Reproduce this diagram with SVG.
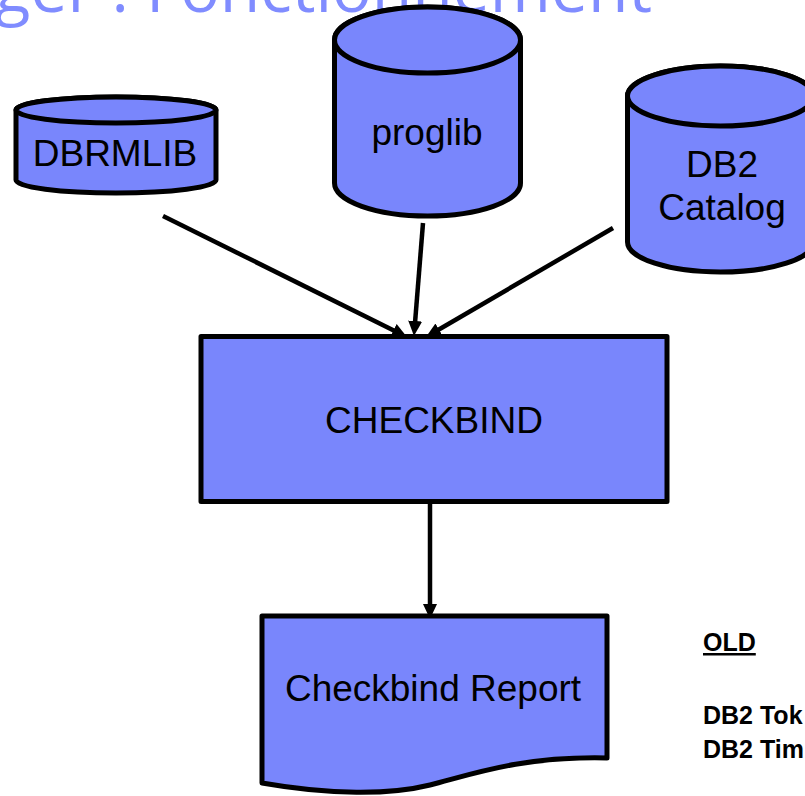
<svg xmlns="http://www.w3.org/2000/svg" width="805" height="796" viewBox="0 0 805 796">
<style>
.shape{fill:#7986fc;stroke:#000;stroke-width:5;stroke-linejoin:round}
.lbl{font-family:"Liberation Sans",Arial,sans-serif;font-size:37px;fill:#000;text-anchor:middle}
.note{font-family:"Liberation Sans",Arial,sans-serif;font-size:25px;font-weight:bold;fill:#000}
.conn{stroke:#000;stroke-width:4.5;fill:none}
</style>
<defs>
<marker id="arr" markerUnits="userSpaceOnUse" markerWidth="16" markerHeight="15" refX="7" refY="7" orient="auto">
<path d="M0,0 L15,7 L0,14 Z" fill="#000"/>
</marker>
</defs>
<rect width="805" height="796" fill="#fff"/>
<text x="652" y="12" font-family="'Open Sans','Noto Sans',sans-serif" font-size="66" fill="#808cff" text-anchor="end">ger : Fonctionnement</text>

<g id="connectors">
<line class="conn" x1="163" y1="216" x2="399.8" y2="333.4" marker-end="url(#arr)"/>
<line class="conn" x1="423" y1="223" x2="414.6" y2="328" marker-end="url(#arr)"/>
<line class="conn" x1="613" y1="228" x2="432.9" y2="333" marker-end="url(#arr)"/>
<line class="conn" x1="430" y1="502" x2="430" y2="611" marker-end="url(#arr)"/>
</g>

<g id="dbrmlib">
<path class="shape" d="M16,110 L16,180 A100,13 0 0 0 216,180 L216,110 A100,13 0 0 0 16,110 Z"/>
<ellipse class="shape" cx="116" cy="110" rx="100" ry="13"/>
<text class="lbl" x="115" y="166">DBRMLIB</text>
</g>

<g id="proglib">
<path class="shape" d="M334.5,40 L334.5,183 A93,33 0 0 0 520.5,183 L520.5,40 A93,33 0 0 0 334.5,40 Z"/>
<ellipse class="shape" cx="427.5" cy="40" rx="93" ry="33"/>
<text class="lbl" x="427" y="145">proglib</text>
</g>

<g id="db2catalog">
<path class="shape" d="M627.5,96 L627.5,242 A93,30 0 0 0 813.5,242 L813.5,96 A93,30 0 0 0 627.5,96 Z"/>
<ellipse class="shape" cx="720.5" cy="96" rx="93" ry="30"/>
<text class="lbl" x="722" y="177">DB2</text>
<text class="lbl" x="722" y="220">Catalog</text>
</g>

<g id="checkbind">
<rect class="shape" x="201" y="336.5" width="466" height="165" stroke-linejoin="miter"/>
<text class="lbl" x="434" y="433">CHECKBIND</text>
</g>

<g id="report">
<path class="shape" stroke-linejoin="miter" d="M262,616 L607,616 L607,758 C520,756 470,775 430,785 C390,795 330,795 262,783 Z"/>
<text class="lbl" x="433" y="701">Checkbind Report</text>
</g>

<g id="notes">
<text class="note" x="703" y="651" text-decoration="underline">OLD</text>
<text class="note" x="703" y="724">DB2 Tok</text>
<text class="note" x="703" y="758">DB2 Tim</text>
</g>
</svg>
